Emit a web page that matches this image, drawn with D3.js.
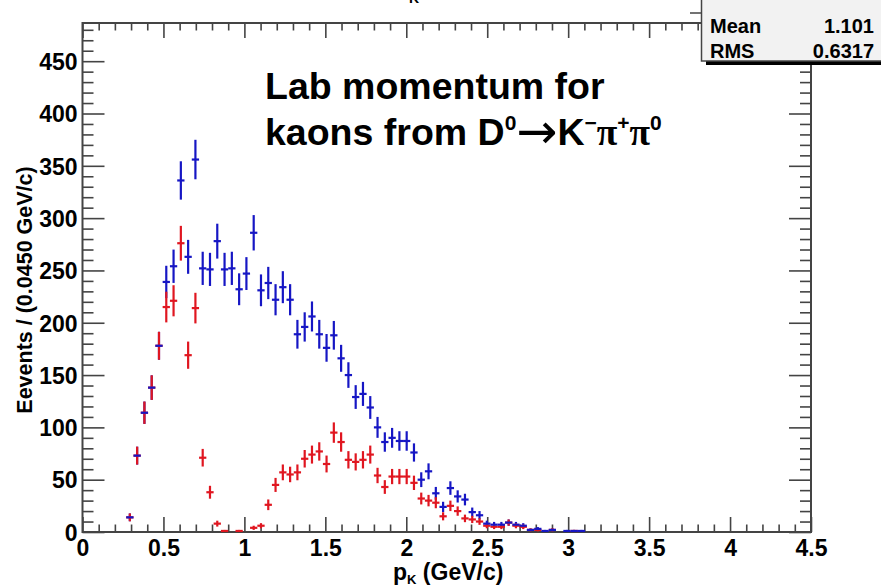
<!DOCTYPE html>
<html><head><meta charset="utf-8">
<script src="https://cdn.jsdelivr.net/npm/d3@7"></script>
<style>
  body { margin: 0; background: #fff; }
  svg { display: block; font-family: "Liberation Sans", Arial, Helvetica, sans-serif; }
</style>
</head><body>
<svg id="chart" width="881" height="587"></svg>
<script>
// Histogram binning: 0.045 GeV/c bins starting at 0; counts listed from bin index 6 onward
const binWidth = 0.045;
const firstBin = 6;

// all kaon candidates (blue)
const totalCounts = [
  14, 73, 114, 138, 178, 239, 254, 336, 263, 356,
  252, 251, 278, 251, 252, 232, 247, 286, 231, 238,
  222, 234, 222, 189, 196, 206, 189, 176, 188, 166,
  150, 129, 132, 119, 100, 86, 90, 87, 87, 76,
  50, 58, 37, 24, 42, 34, 31, 19, 16, 8,
  7, 7, 9, 7, 6, 2, 3, 1, 2, 0,
  1, 1, 1
];

// selected subset (red)
const selectedCounts = [
  14, 73, 114, 138, 178, 215, 221, 276, 169, 214,
  71, 38, 8, 1, 0, 1, 0, 4, 6, 26,
  45, 57, 55, 57, 70, 74, 77, 65, 95, 86,
  69, 67, 69, 74, 54, 43, 53, 53, 53, 47,
  32, 30, 28, 15, 25, 20, 13, 12, 10, 6,
  5, 5, 9, 6, 5, 2, 2, 0, 2, 0,
  0, 1, 0
];

const xMajorTicks = [0, 0.5, 1, 1.5, 2, 2.5, 3, 3.5, 4, 4.5];
const yMajorTicks = [0, 50, 100, 150, 200, 250, 300, 350, 400, 450];

const statNames = ["Mean", "RMS"];
const statValues = ["1.101", "0.6317"];

const svg = d3.select("#chart");
const x = d3.scaleLinear().domain([0, 4.5]).range([82.5, 811]);
const y = d3.scaleLinear().domain([0, 486.5]).range([532, 23]);

const frameColor = "#444";
const blue = "#1616c4";
const red = "#e01620";

// minor tick positions
const xMinor = d3.range(0, 46).map(i => +(i * 0.1).toFixed(2)).filter(v => !xMajorTicks.includes(v));
const yMinor = d3.range(0, 49).map(i => i * 10).filter(v => v % 50 !== 0);

function styleAxis(g) {
  g.select(".domain").remove();
  g.selectAll(".tick line").attr("stroke", frameColor).attr("stroke-width", 1.6);
}

// bottom axis (ticks pointing into the frame)
svg.append("g").attr("transform", `translate(0,${y(0)})`)
  .call(d3.axisBottom(x).tickValues(xMajorTicks).tickSize(-15).tickPadding(24)
        .tickFormat(d => d3.format("")(d)))
  .call(styleAxis)
  .call(g => g.selectAll("text").attr("font-size", 23).attr("font-weight", "bold").attr("fill", "#000")
                .attr("dy", 0).attr("y", 24));
svg.append("g").attr("transform", `translate(0,${y(0)})`)
  .call(d3.axisBottom(x).tickValues(xMinor).tickSize(-7.5).tickFormat(""))
  .call(styleAxis);

// top axis
svg.append("g").attr("transform", `translate(0,${y.range()[1]})`)
  .call(d3.axisTop(x).tickValues(xMajorTicks).tickSize(-15).tickFormat(""))
  .call(styleAxis);
svg.append("g").attr("transform", `translate(0,${y.range()[1]})`)
  .call(d3.axisTop(x).tickValues(xMinor).tickSize(-7.5).tickFormat(""))
  .call(styleAxis);

// left axis
svg.append("g").attr("transform", `translate(${x(0)},0)`)
  .call(d3.axisLeft(y).tickValues(yMajorTicks).tickSize(-22).tickPadding(6))
  .call(styleAxis)
  .call(g => g.selectAll("text").attr("font-size", 23).attr("font-weight", "bold").attr("fill", "#000")
                .attr("x", -5).attr("dy", "0.36em"));
svg.append("g").attr("transform", `translate(${x(0)},0)`)
  .call(d3.axisLeft(y).tickValues(yMinor).tickSize(-11).tickFormat(""))
  .call(styleAxis);

// right axis
svg.append("g").attr("transform", `translate(${x(4.5)},0)`)
  .call(d3.axisRight(y).tickValues(yMajorTicks).tickSize(-22).tickFormat(""))
  .call(styleAxis);
svg.append("g").attr("transform", `translate(${x(4.5)},0)`)
  .call(d3.axisRight(y).tickValues(yMinor).tickSize(-11).tickFormat(""))
  .call(styleAxis);

// frame
svg.append("rect")
  .attr("x", x(0)).attr("y", y.range()[1])
  .attr("width", x(4.5) - x(0)).attr("height", y(0) - y.range()[1])
  .attr("fill", "none").attr("stroke", frameColor).attr("stroke-width", 2);

// error-bar markers
function binData(counts) {
  return counts.map((c, k) => {
    const i = firstBin + k;
    return { lo: i * binWidth, hi: (i + 1) * binWidth, mid: (i + 0.5) * binWidth, c };
  }).filter(d => d.c > 0);
}
const blueBins = binData(totalCounts);
const redBins = binData(selectedCounts);

const marks = svg.append("g").attr("stroke-width", 2.2).attr("stroke-linecap", "butt");

function verticals(bins, color) {
  marks.append("g").attr("stroke", color).selectAll("line").data(bins).join("line")
    .attr("x1", d => x(d.mid)).attr("x2", d => x(d.mid))
    .attr("y1", d => y(d.c - Math.sqrt(d.c))).attr("y2", d => y(d.c + Math.sqrt(d.c)));
}
function horizontals(bins, color) {
  marks.append("g").attr("stroke", color).selectAll("line").data(bins).join("line")
    .attr("x1", d => x(d.lo)).attr("x2", d => x(d.hi))
    .attr("y1", d => y(d.c)).attr("y2", d => y(d.c));
}
verticals(blueBins, blue);
verticals(redBins, red);
horizontals(redBins, red);
horizontals(blueBins, blue);

// axis titles
const xt = svg.append("text").attr("x", 393).attr("y", 580)
  .attr("font-size", 23).attr("font-weight", "bold");
xt.append("tspan").text("p");
xt.append("tspan").attr("font-size", 13).attr("dy", 4).text("K");
xt.append("tspan").attr("dy", -4).text(" (GeV/c)");

svg.append("text")
  .attr("transform", "translate(32,290) rotate(-90)")
  .attr("text-anchor", "middle")
  .attr("font-size", 21.5).attr("font-weight", "bold")
  .text("Eevents / (0.0450 GeV/c)");

// annotation
const fs = 37.5;
svg.append("text").attr("x", 265).attr("y", 99)
  .attr("font-size", fs).attr("font-weight", "bold")
  .text("Lab momentum for");
const l2 = svg.append("text").attr("x", 265).attr("y", 145)
  .attr("font-size", fs).attr("font-weight", "bold");
l2.append("tspan").text("kaons from D");
l2.append("tspan").attr("font-size", 21).attr("dy", -15).text("0");
l2.append("tspan").attr("dy", 18).attr("font-family", "DejaVu Sans").attr("font-weight", "normal")
  .attr("font-size", 49).text("\u2192");
l2.append("tspan").attr("dy", -3).text("K");
l2.append("tspan").attr("font-size", 21).attr("dy", -15).text("\u2212");
l2.append("tspan").attr("dy", 15).attr("font-family", "Liberation Serif").text("\u03c0");
l2.append("tspan").attr("font-size", 21).attr("dy", -15).text("+");
l2.append("tspan").attr("dy", 15).attr("font-family", "Liberation Serif").text("\u03c0");
l2.append("tspan").attr("font-size", 21).attr("dy", -15).text("0");

// clipped page title remnant
svg.append("text").attr("x", 409).attr("y", 3).attr("font-size", 14).attr("font-weight", "bold").text("K");

// statistics box
svg.append("line").attr("x1", 690).attr("x2", 702).attr("y1", 13).attr("y2", 13)
  .attr("stroke", frameColor).attr("stroke-width", 1.5);
svg.append("rect").attr("x", 706).attr("y", 61).attr("width", 180).attr("height", 4).attr("fill", "#000");
svg.append("rect").attr("x", 701.5).attr("y", -2).attr("width", 185).attr("height", 63)
  .attr("fill", "#f2f2f2").attr("stroke", "#444").attr("stroke-width", 1.5);
statNames.forEach((n, k) => {
  svg.append("text").attr("x", 710).attr("y", 33 + k * 25)
    .attr("font-size", 20).attr("font-weight", "bold").text(n);
  svg.append("text").attr("x", 874).attr("y", 33 + k * 25).attr("text-anchor", "end")
    .attr("font-size", 20).attr("font-weight", "bold").text(statValues[k]);
});
</script>
</body></html>
